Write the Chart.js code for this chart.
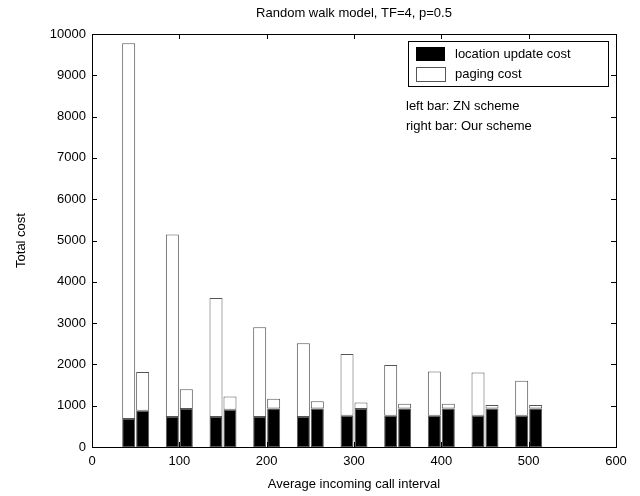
<!DOCTYPE html>
<html>
<head>
<meta charset="utf-8">
<script src="https://cdn.jsdelivr.net/npm/chart.js@4"></script>
<style>
  html, body { margin: 0; padding: 0; background: #fff; }
  #wrap { width: 640px; height: 496px; }
</style>
</head>
<body>
<div id="wrap"><canvas id="costChart" width="640" height="496"></canvas></div>
<script>
// --- Data ---
const intervals = [50, 100, 150, 200, 250, 300, 350, 400, 450, 500];
const znLocation = [680, 725, 725, 725, 725, 755, 755, 755, 755, 755];
const znPaging = [9095, 4420, 2880, 2175, 1785, 1495, 1230, 1075, 1050, 850];
const ourLocation = [880, 920, 900, 935, 935, 920, 930, 930, 930, 930];
const ourPaging = [935, 480, 325, 235, 175, 160, 120, 120, 85, 85];
const xTicks = [0, 100, 200, 300, 400, 500, 600];
const yTicks = [0, 1000, 2000, 3000, 4000, 5000, 6000, 7000, 8000, 9000, 10000];

const FONT = "'Liberation Sans', Arial, Helvetica, sans-serif";
const points = vals => vals.map((v, i) => ({ x: intervals[i], y: v }));

function barSet(label, vals, stack, fill) {
    return {
        label: label,
        data: points(vals),
        stack: stack,
        backgroundColor: fill,
        borderColor: '#555',
        borderWidth: 1,
        borderSkipped: false,
        categoryPercentage: 0.64,
        barPercentage: 0.93
    };
}

// --- Frame, inward ticks, title and legend box ---
const framePlugin = {
    id: 'frame',
    afterDraw(chart) {
        const { ctx, chartArea: a, scales } = chart;
        ctx.save();
        ctx.strokeStyle = '#000';
        ctx.lineWidth = 1;
        ctx.strokeRect(a.left + 0.5, a.top + 0.5, a.right - a.left, a.bottom - a.top);
        ctx.beginPath();
        xTicks.forEach(t => {
            const px = Math.round(scales.x.getPixelForValue(t)) + 0.5;
            ctx.moveTo(px, a.bottom); ctx.lineTo(px, a.bottom - 5);
            ctx.moveTo(px, a.top); ctx.lineTo(px, a.top + 5);
        });
        yTicks.forEach(t => {
            const py = Math.round(scales.y.getPixelForValue(t)) + 0.5;
            ctx.moveTo(a.left, py); ctx.lineTo(a.left + 5, py);
            ctx.moveTo(a.right, py); ctx.lineTo(a.right - 5, py);
        });
        ctx.stroke();

        // title
        ctx.fillStyle = '#000';
        ctx.font = '13px ' + FONT;
        ctx.textAlign = 'center';
        ctx.textBaseline = 'middle';
        ctx.fillText('Random walk model, TF=4, p=0.5', (a.left + a.right) / 2, 13);

        // legend box
        const bx = a.right - 208, by = a.top + 7;
        ctx.fillStyle = '#fff';
        ctx.fillRect(bx, by, 200, 45);
        ctx.strokeRect(bx + 0.5, by + 0.5, 200, 45);
        ctx.fillStyle = '#000';
        ctx.fillRect(bx + 8, by + 6, 29, 14);
        ctx.strokeStyle = '#555';
        ctx.strokeRect(bx + 8.5, by + 26.5, 29, 14);
        ctx.fillStyle = '#000';
        ctx.textAlign = 'left';
        ctx.fillText('location update cost', bx + 47, by + 13);
        ctx.fillText('paging cost', bx + 47, by + 33);

        ctx.fillText('left bar: ZN scheme', bx - 2, by + 65);
        ctx.fillText('right bar: Our scheme', bx - 2, by + 85);
        ctx.restore();
    }
};

new Chart(document.getElementById('costChart'), {
    type: 'bar',
    data: {
        datasets: [
            barSet('location update cost', znLocation, 'zn', '#000'),
            barSet('paging cost', znPaging, 'zn', '#fff'),
            barSet('location update cost', ourLocation, 'our', '#000'),
            barSet('paging cost', ourPaging, 'our', '#fff')
        ]
    },
    options: {
        responsive: false,
        animation: false,
        layout: { padding: { top: 34, right: 24, left: 0, bottom: 0 } },
        plugins: { legend: { display: false }, title: { display: false }, tooltip: { enabled: false } },
        scales: {
            x: {
                type: 'linear',
                min: 0, max: 600,
                offset: false,
                grid: { display: false, drawTicks: false },
                border: { display: false },
                afterBuildTicks(scale) { scale.ticks = xTicks.map(v => ({ value: v })); },
                afterFit(scale) { scale.height = 49; },
                ticks: { color: '#000', font: { family: FONT, size: 13 }, padding: 7, maxRotation: 0,
                         callback: v => String(v) },
                title: { display: true, text: 'Average incoming call interval', color: '#000',
                         font: { family: FONT, size: 13 }, padding: { top: 0, bottom: 4 } }
            },
            y: {
                stacked: true,
                min: 0, max: 10000,
                grid: { display: false, drawTicks: false },
                border: { display: false },
                afterBuildTicks(scale) { scale.ticks = yTicks.map(v => ({ value: v })); },
                afterFit(scale) { scale.width = 92; },
                ticks: { color: '#000', font: { family: FONT, size: 13 }, padding: 6,
                         callback: v => String(v) },
                title: { display: true, text: 'Total cost', color: '#000',
                         font: { family: FONT, size: 13 }, padding: { top: 14, bottom: 0 } }
            }
        }
    },
    plugins: [framePlugin]
});
</script>
</body>
</html>
